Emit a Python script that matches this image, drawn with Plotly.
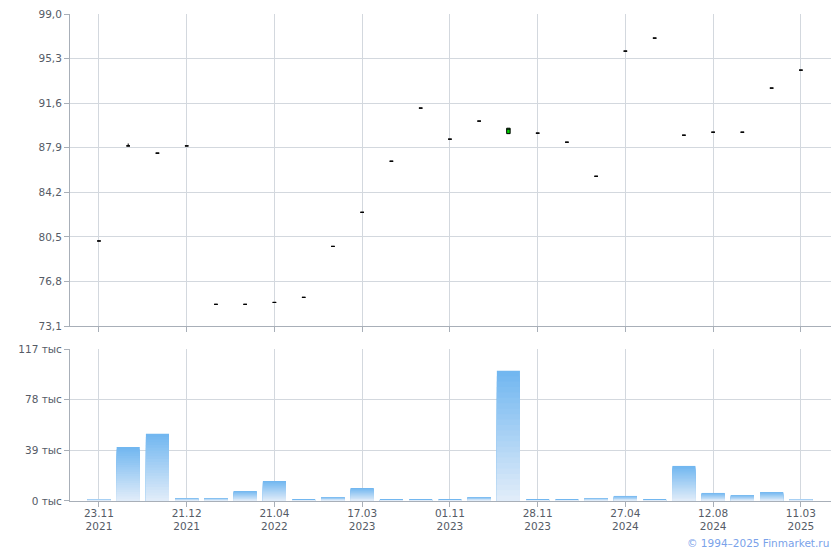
import plotly.graph_objects as go

# ---- data ----
idx = list(range(25))
opens = [80.16, 88.05, 87.45, 88.05, 74.90, 74.90, 75.06, 75.48, 79.71, 82.54,
         86.78, 91.19, 88.61, 90.11, 89.07, 89.11, 88.36, 85.53, 95.92, 97.00,
         88.94, 89.19, 89.19, 92.85, 94.34]
closes = [80.16, 88.05, 87.45, 88.05, 74.90, 74.90, 75.06, 75.48, 79.71, 82.54,
          86.78, 91.19, 88.61, 90.11, 89.52, 89.11, 88.36, 85.53, 95.92, 97.00,
          88.94, 89.19, 89.19, 92.85, 94.34]
highs = [80.16, 88.25, 87.45, 88.05, 74.90, 74.90, 75.06, 75.48, 79.71, 82.54,
         86.78, 91.19, 88.61, 90.11, 89.52, 89.11, 88.36, 85.53, 95.92, 97.00,
         88.94, 89.19, 89.19, 92.85, 94.34]
lows = [80.16, 88.05, 87.45, 88.05, 74.90, 74.90, 75.06, 75.48, 79.71, 82.54,
        86.78, 91.19, 88.61, 90.11, 89.07, 89.11, 88.36, 85.53, 95.92, 97.00,
        88.94, 89.19, 89.19, 92.85, 94.34]
volumes = [1.5, 41.6, 51.7, 2.3, 2.3, 7.7, 15.4, 0.8, 3.1, 10.0,
           0.8, 0.8, 0.8, 3.1, 100.3, 0.8, 0.8, 2.3, 3.9, 0.8,
           27.0, 6.2, 4.6, 6.9, 1.5]  # thousands

tick_idx = [0, 3, 6, 9, 12, 15, 18, 21, 24]
tick_text = ["23.11<br>2021", "21.12<br>2021", "21.04<br>2022", "17.03<br>2023",
             "01.11<br>2023", "28.11<br>2023", "27.04<br>2024", "12.08<br>2024",
             "11.03<br>2025"]
price_ticks = [73.1, 76.8, 80.5, 84.2, 87.9, 91.6, 95.3, 99.0]
price_tick_text = ["73,1", "76,8", "80,5", "84,2", "87,9", "91,6", "95,3", "99,0"]
vol_ticks = [0, 39, 78, 117]
vol_tick_text = ["0 тыс", "39 тыс", "78 тыс", "117 тыс"]

# ---- styles ----
FONT = "DejaVu Sans"
TXT = "#555b66"
GRID = "#d3d8de"
AXIS = "#a8afb8"
TOP_C = (0x72, 0xb7, 0xf0)
BOT_C = (0xe0, 0xec, 0xf9)
FS = 10.5

fig = go.Figure()

fig.add_trace(go.Candlestick(
    x=idx, open=opens, high=highs, low=lows, close=closes,
    increasing=dict(line=dict(color="black", width=1), fillcolor="#00cc00"),
    decreasing=dict(line=dict(color="black", width=1), fillcolor="black"),
    whiskerwidth=0, xaxis="x", yaxis="y", showlegend=False, hoverinfo="skip",
))

# gradient volume bars via stacked overlay steps
N = 24
for k in range(N):
    f = 1 - k / N
    t = k / (N - 1)
    c = tuple(round(TOP_C[i] + (BOT_C[i] - TOP_C[i]) * t) for i in range(3))
    fig.add_trace(go.Bar(
        x=idx, y=[v * f for v in volumes], xaxis="x2", yaxis="y2",
        marker=dict(color="rgb(%d,%d,%d)" % c, line=dict(width=0)),
        showlegend=False, hoverinfo="skip",
    ))

xr = [-0.99, 25.03]
common_x = dict(range=xr, tickmode="array", tickvals=tick_idx, showgrid=True,
                gridcolor=GRID, gridwidth=1, showline=True, linecolor=AXIS,
                linewidth=1, ticks="outside", ticklen=5, tickcolor=AXIS,
                zeroline=False, fixedrange=True, automargin=False)

# page body has an 8px default margin: shrink the figure to compensate
fig.update_layout(
    width=832, height=542,
    margin=dict(l=62, r=9, t=6, b=49),
    paper_bgcolor="white", plot_bgcolor="white",
    font=dict(family=FONT, size=FS, color=TXT),
    barmode="overlay", bargap=0.21, boxgap=0.83,
    showlegend=False,
    xaxis=dict(common_x, anchor="y", ticktext=[""] * len(tick_idx),
               showticklabels=False, rangeslider=dict(visible=False)),
    yaxis=dict(domain=[0.3593, 1.0], range=[73.1, 99.0005], tickmode="array",
               tickvals=price_ticks, ticktext=price_tick_text, showgrid=True,
               gridcolor=GRID, showline=True, linecolor=AXIS, linewidth=1,
               ticks="outside", ticklen=5, tickcolor=AXIS, zeroline=False,
               anchor="x", fixedrange=True, automargin=False,
               ticklabeloverflow="allow"),
    xaxis2=dict(common_x, anchor="y2", ticktext=tick_text, showticklabels=True,
                ticklabelstandoff=-3,
                tickfont=dict(family=FONT, size=FS, color=TXT)),
    yaxis2=dict(domain=[0.0, 0.3121], range=[0, 117], tickmode="array",
                tickvals=vol_ticks, ticktext=vol_tick_text, showgrid=True,
                gridcolor=GRID, showline=True, linecolor=AXIS, linewidth=1,
                ticks="outside", ticklen=5, tickcolor=AXIS, zeroline=False,
                anchor="x2", fixedrange=True, automargin=False,
                ticklabeloverflow="allow"),
    annotations=[dict(text="© 1994–2025 Finmarket.ru", xref="paper", yref="paper",
                      x=1.0, y=-0.086, xanchor="right", yanchor="middle",
                      showarrow=False,
                      font=dict(family=FONT, size=10.5, color="#7aa2ea"))],
)

fig.write_html("out.html")
